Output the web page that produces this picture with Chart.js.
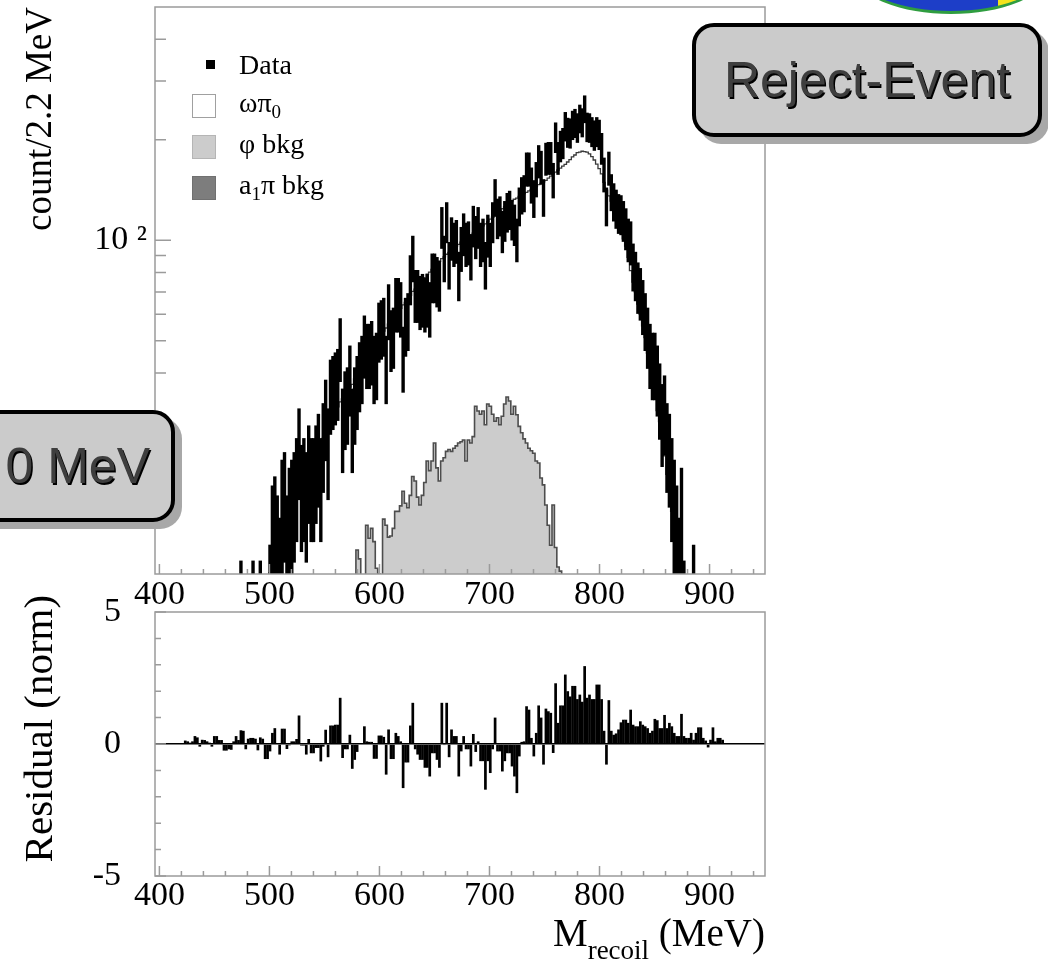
<!DOCTYPE html>
<html>
<head>
<meta charset="utf-8">
<title>M recoil spectrum - Reject-Event</title>
<script src="https://cdn.jsdelivr.net/npm/chart.js@4.4.1/dist/chart.umd.min.js"></script>
<style>
  body { margin: 0; background: #fff; }
  #page { position: relative; width: 1048px; height: 966px; overflow: hidden; background: #fff;
          font-family: "Liberation Serif", "Times New Roman", serif; color: #000; }
  canvas { position: absolute; left: 0; }
  #topChart { top: 0; }
  #bottomChart { top: 580px; }
  .key { position: absolute; box-sizing: border-box; }
  .keyText { position: absolute; left: 239px; font-size: 28px; line-height: 28px; white-space: nowrap; }
  .keyText sub { font-size: 19px; vertical-align: -6px; line-height: 0; }
  .tag { position: absolute; box-sizing: border-box; background: #cbcbcb; border: 4px solid #000;
         border-radius: 22px; box-shadow: 7px 7px 0 #a8a8a8; display: flex; align-items: center;
         font-family: "Liberation Sans", Arial, sans-serif; font-size: 50px; color: #3e3e3e;
         text-shadow: 1.5px 1.5px 0 #000; white-space: nowrap; }
  #xTitle { position: absolute; right: 283px; top: 913px; font-size: 39px; line-height: 39px; white-space: nowrap; }
  #xTitle sub { font-size: 27px; vertical-align: -13px; line-height: 0; }
  #logo { position: absolute; left: 858px; top: -62px; width: 186px; height: 76px; box-sizing: border-box;
          border-radius: 50%; border: 3px solid #2f9d40;
          background: linear-gradient(90deg, #1d3ec8 0%, #1d3ec8 76%, #f3e31b 76%, #f3e31b 100%); }
</style>
</head>
<body>
<div id="page">
  <canvas id="topChart" width="800" height="612"></canvas>
  <canvas id="bottomChart" width="800" height="386"></canvas>

  <div class="key" style="left:206px;top:60px;width:9px;height:9px;background:#000"></div>
  <div class="key" style="left:192px;top:94px;width:24px;height:24px;background:#fff;border:1px solid #a0a0a0"></div>
  <div class="key" style="left:192px;top:135px;width:24px;height:24px;background:#cccccc;border:1px solid #b5b5b5"></div>
  <div class="key" style="left:192px;top:176px;width:24px;height:24px;background:#7d7d7d;border:1px solid #707070"></div>
  <div class="keyText" style="top:51px">Data</div>
  <div class="keyText" style="top:89px">ωπ<sub>0</sub></div>
  <div class="keyText" style="top:130px">φ bkg</div>
  <div class="keyText" style="top:171px">a<sub>1</sub>π bkg</div>

  <div id="xTitle">M<sub>recoil</sub> (MeV)</div>

  <div id="logo"></div>
  <div class="tag" style="left:692px;top:23px;width:350px;height:114px;justify-content:center">Reject-Event</div>
  <div class="tag" style="left:-200px;top:410px;width:375px;height:112px;justify-content:flex-end;padding-right:21px">0 MeV</div>
</div>

<script>
// histogram binning: 252 bins of 2.2 MeV starting at 396 MeV
const firstEdge = 396;
const binWidth = 2.2;
// data error bars drawn as +- errorScale * sqrt(count)
const errorScale = 1.5;

const xTickValues = [400, 500, 600, 700, 800, 900];
const yTopTickValues = [100];
const yTopTickLabels = ["10 \u00b2"];
const yTopMinorTicks = [20, 30, 40, 50, 60, 70, 80, 90, 200, 300, 400];
const yBottomTickValues = [-5, 0, 5];
const yBottomMinorTicks = [-4, -3, -2, -1, 1, 2, 3, 4];

// data counts per bin
const dataCounts = [
  0, 0, 0, 0, 0, 0, 0, 0, 0, 0,
  0, 0, 1, 0, 1, 0, 1, 1, 0, 1,
  1, 1, 1, 1, 2, 2, 2, 2, 1, 2,
  2, 2, 3, 4, 4, 7, 5, 4, 6, 6,
  7, 6, 6, 7, 6, 6, 6, 8, 13, 14,
  12, 10, 16, 17, 12, 15, 16, 17, 19, 24,
  18, 19, 17, 21, 19, 19, 21, 23, 19, 25,
  30, 24, 35, 36, 37, 38, 48, 28, 32, 33,
  39, 28, 33, 36, 40, 42, 49, 46, 46, 47,
  42, 43, 54, 55, 56, 42, 62, 51, 52, 65,
  65, 63, 45, 56, 58, 77, 89, 69, 69, 66,
  67, 65, 67, 63, 78, 78, 76, 74, 110, 89,
  114, 85, 102, 98, 100, 79, 95, 105, 98, 99,
  90, 111, 103, 110, 98, 101, 85, 104, 98, 114,
  135, 117, 119, 107, 115, 122, 124, 116, 112, 101,
  127, 137, 139, 164, 164, 147, 134, 153, 173, 166,
  135, 176, 177, 177, 152, 204, 177, 192, 196, 220,
  211, 210, 222, 225, 218, 232, 226, 248, 219, 218,
  212, 207, 212, 208, 189, 158, 127, 165, 140, 131,
  125, 121, 120, 115, 109, 101, 99, 84, 79, 73,
  70, 64, 58, 52, 46, 43, 43, 39, 34, 29,
  31, 25, 23, 19, 16, 13, 10, 15, 7, 6,
  5, 6, 8, 3, 3, 3, 2, 1, 1, 1,
  2, 1, 1, 0, 0, 0, 0, 0, 0, 0,
  0, 0, 0, 0, 0, 0, 0, 0, 0, 0,
  0, 0
];

// omega pi0 + backgrounds, simulation total per bin
const mcTotal = [
  0, 0, 0, 0, 0, 0, 0, 0, 0, 0,
  0, 0, 0.3, 0.3, 0.4, 0.4, 0.5, 0.6, 0.6, 0.7,
  0.8, 0.9, 1.0, 1.1, 1.2, 1.4, 1.5, 1.7, 1.9, 2.1,
  2.3, 2.6, 2.9, 3.2, 3.5, 3.9, 4.3, 4.7, 5.1, 5.5,
  6.0, 6.5, 7.0, 7.5, 8.1, 8.7, 9.4, 10.1, 10.8, 10.9,
  11.7, 12.2, 13.1, 13.5, 14.3, 14.8, 15.7, 16.1, 17.0, 17.5,
  18.3, 18.8, 19.6, 20.2, 21.2, 21.9, 23.0, 23.7, 24.8, 25.5,
  26.7, 27.5, 28.9, 29.7, 31.1, 31.7, 32.8, 33.5, 34.6, 35.3,
  36.3, 37.0, 38.4, 39.3, 40.5, 41.5, 42.9, 44.0, 45.5, 46.6,
  48.2, 49.3, 50.8, 51.9, 53.4, 54.6, 56.1, 57.2, 58.7, 59.8,
  61.4, 62.5, 64.0, 65.1, 66.8, 68.4, 70.3, 71.4, 72.9, 74.0,
  75.6, 77.2, 79.1, 80.3, 81.8, 83.0, 84.9, 86.5, 88.1, 89.2,
  90.8, 91.9, 93.4, 94.5, 96.1, 97.2, 98.7, 99.8, 101.3, 102.4,
  104.0, 105.1, 106.6, 107.7, 109.2, 110.4, 111.9, 113.7, 115.7, 117.2,
  119.2, 120.7, 122.7, 124.3, 126.2, 127.8, 129.7, 131.2, 132.7, 133.8,
  135.4, 136.5, 138.1, 139.2, 140.7, 141.8, 143.3, 144.9, 146.9, 148.0,
  149.6, 151.2, 153.6, 155.6, 158.0, 160.0, 162.4, 164.4, 166.8, 168.8,
  171.6, 174.5, 177.7, 180.1, 183.0, 183.7, 184.8, 184.3, 183.6, 181.5,
  178.2, 174.0, 169.1, 164.0, 158.2, 149.1, 141.2, 135.8, 131.1, 124.9,
  119.1, 111.9, 107.1, 100.9, 96.1, 88.9, 81.1, 74.9, 70.1, 64.4,
  60.1, 55.4, 51.1, 45.9, 42.1, 37.9, 34.1, 30.9, 28.6, 25.4,
  22.6, 19.9, 17.9, 15.4, 13.4, 10.9, 9.4, 7.9, 6.8, 5.5,
  4.8, 4.0, 3.4, 2.8, 2.3, 1.9, 1.6, 1.3, 1.1, 0.9,
  0.7, 0.6, 0.5, 0.4, 0.3, 0, 0, 0, 0, 0,
  0, 0, 0, 0, 0, 0, 0, 0, 0, 0,
  0, 0
];

// phi background, bins 82..169
const phiFirstBin = 82;
const phiBkg = [
  0.5,
  11.8, 11.1, 9.0, 9.5, 14.0, 12.8, 13.7, 12.5, 10.4, 10.0,
  9.8, 14.6, 14.0, 12.9, 13.0, 13.7, 15.4, 15.4, 16.0, 17.7,
  16.3, 15.8, 17.2, 19.6, 19.0, 17.0, 16.1, 17.2, 18.8, 21.8,
  20.4, 21.8, 24.7, 20.8, 19.0, 21.8, 22.3, 23.3, 23.6, 23.3,
  23.8, 24.2, 24.7, 24.9, 25.2, 21.8, 25.2, 24.7, 25.8, 31.8,
  30.8, 30.1, 30.8, 28.0, 32.3, 31.8, 30.1, 28.7, 29.4, 28.0,
  29.7, 32.3, 33.9, 33.0, 30.1, 31.8, 30.0, 27.7, 26.5, 25.4,
  24.7, 23.8, 23.4, 23.0, 21.8, 21.5, 19.4, 18.5, 16.1, 14.0,
  12.2, 16.1, 12.0, 10.5, 10.2, 9.9,
  0.5
];

// normalised residual per bin
const residuals = [
  0, 0, 0, 0, 0, 0, 0, 0, 0, 0,
  0, 0, 0.13, 0.1, 0.05, 0.1, 0.3, 0.25, -0.1, 0.16,
  0.15, 0.1, 0.05, -0.1, 0.3, 0.3, 0.15, 0.15, -0.25, -0.25,
  -0.2, -0.22, 0.1, 0.3, 0.15, 0.52, 0.5, -0.2, 0.2, 0.23,
  0.23, 0.2, -0.24, 0.25, 0.2, -0.57, -0.57, -0.28, 0.42, 0.6,
  0, -0.4, 0.58, 0.58, -0.19, -0.05, 0.1, 0.1, 0.19, 1.08,
  -0.06, -0.06, -0.4, 0.19, -0.35, -0.35, -0.15, -0.15, -0.66, -0.1,
  0.54, -0.5, 0.7, 0.7, 0.73, 0.73, 1.75, -0.53, -0.2, -0.2,
  0.35, -0.94, -0.6, -0.3, 0, 0, 0.67, 0.1, 0.08, 0.08,
  -0.56, -0.56, 0.32, 0.32, 0.27, -1.16, 0.55, -0.57, -0.57, 0.42,
  0.3, 0.1, -1.67, -0.7, -0.7, 0.7, 1.56, -0.2, -0.4, -0.6,
  -0.6, -0.9, -0.9, -1.23, -0.35, -0.35, -0.6, -0.9, 1.56, -0.04,
  1.56, -0.5, 0.55, 0.3, 0.3, -1.23, -0.28, 0.3, -0.2, -0.2,
  -0.85, 0.38, -0.3, 0.1, -0.65, -0.65, -1.73, -0.65, -1.1, -0.2,
  1.0, -0.28, -0.28, -1.04, -0.65, -0.35, -0.35, -0.85, -1.23, -1.86,
  -0.47, 0.08, 0.1, 1.43, 1.3, 0.23, -0.47, 0.42, 1.46, 1.0,
  -0.78, 1.34, 1.24, 1.18, -0.34, 2.3, 0.8, 1.46, 1.46, 2.63,
  2.0, 1.8, 2.2, 2.2, 1.7, 1.87, 1.6, 2.95, 1.75, 1.87,
  1.7, 1.7, 2.25, 2.25, 1.7, 0.5, -0.78, 1.66, 0.5, 0.35,
  0.4, 0.55, 0.82, 0.92, 0.92, 0.8, 1.3, 0.73, 0.67, 0.67,
  0.86, 0.73, 0.67, 0.6, 0.42, 0.5, 0.95, 0.9, 0.6, 0.6,
  1.1, 0.6, 0.8, 0.67, 0.42, 0.3, 0.3, 1.14, 0.3, 0.23,
  0.23, 0.42, 0.16, 0.42, 0.63, 0.63, 0.23, 0.13, -0.13, 0.16,
  0.63, 0.1, 0.23, 0.23, 0.16, 0, 0, 0, 0, 0,
  0, 0, 0, 0, 0, 0, 0, 0, 0, 0,
  0, 0
];

const serif = "Liberation Serif";
const xMin = firstEdge;
const xMax = firstEdge + dataCounts.length * binWidth;
const binEdge = (k) => firstEdge + k * binWidth;
const binCenter = (k) => binEdge(k) + binWidth / 2;

// points for a stepped histogram outline (value holds from left edge to next edge)
function stepPoints(values, startBin) {
  const pts = values.map((v, i) => ({ x: binEdge(startBin + i), y: v }));
  pts.push({ x: binEdge(startBin + values.length), y: values[values.length - 1] });
  return pts;
}

const dataBars = [];
dataCounts.forEach((n, k) => {
  if (n > 0) {
    const err = errorScale * Math.sqrt(n);
    dataBars.push({ x: binCenter(k), y: [Math.max(n - err, 0.1), n + err] });
  }
});

const mcFirst = mcTotal.findIndex((v) => v > 0);
const mcLast = mcTotal.length - 1 - [...mcTotal].reverse().findIndex((v) => v > 0);
const mcPoints = stepPoints(mcTotal.slice(mcFirst, mcLast + 1), mcFirst);

const residualBars = residuals.map((r, k) => ({ x: binCenter(k), y: r }));

// ROOT-like frame with inward tick marks
function frameTicks(id, yMajor, yMinor, yMajorLen, yMinorLen) {
  return {
    id: id,
    afterDatasetsDraw(chart) {
      const { ctx, chartArea: a, scales } = chart;
      ctx.save();
      ctx.strokeStyle = "#9b9b9b";
      ctx.lineWidth = 1.5;
      ctx.strokeRect(a.left, a.top, a.right - a.left, a.bottom - a.top);
      ctx.beginPath();
      for (let v = 400; v <= 940; v += 20) {
        const px = scales.x.getPixelForValue(v);
        const len = v % 100 === 0 ? 10 : 5;
        ctx.moveTo(px, a.bottom);
        ctx.lineTo(px, a.bottom - len);
      }
      yMajor.forEach((v) => {
        const py = scales.y.getPixelForValue(v);
        ctx.moveTo(a.left, py);
        ctx.lineTo(a.left + yMajorLen, py);
      });
      yMinor.forEach((v) => {
        const py = scales.y.getPixelForValue(v);
        ctx.moveTo(a.left, py);
        ctx.lineTo(a.left + yMinorLen, py);
      });
      ctx.stroke();
      ctx.restore();
    }
  };
}

const xAxis = (height, pad) => ({
  type: "linear",
  min: xMin,
  max: xMax,
  offset: false,
  grid: { display: false, drawTicks: false },
  border: { display: false },
  afterBuildTicks: (s) => { s.ticks = xTickValues.map((v) => ({ value: v })); },
  afterFit: (s) => { s.height = height; s.paddingLeft = 0; s.paddingRight = 0; },
  ticks: {
    padding: pad, maxRotation: 0, autoSkip: false, color: "#000",
    font: { family: serif, size: 34 },
    callback: (v) => String(v)
  }
});

new Chart(document.getElementById("topChart"), {
  type: "line",
  data: {
    datasets: [
      {
        type: "bar",
        label: "Data",
        data: dataBars,
        backgroundColor: "#000",
        barThickness: 3.4,
        inflateAmount: 0,
        order: 1,
        clip: 0
      },
      {
        label: "\u03c9\u03c00 total",
        data: mcPoints,
        stepped: "before",
        borderColor: "#3a3a3a",
        borderWidth: 1.3,
        pointRadius: 0,
        fill: false,
        order: 2,
        clip: 0
      },
      {
        label: "\u03c6 bkg",
        data: stepPoints(phiBkg, phiFirstBin),
        stepped: "before",
        borderColor: "#4d4d4d",
        borderWidth: 1.6,
        backgroundColor: "#cccccc",
        fill: "start",
        pointRadius: 0,
        order: 3,
        clip: 0
      }
    ]
  },
  options: {
    responsive: false,
    animation: false,
    devicePixelRatio: 1,
    layout: { padding: { top: 7, right: 35, left: 0, bottom: 0 } },
    plugins: { legend: { display: false }, tooltip: { enabled: false } },
    scales: {
      x: xAxis(38, 1),
      y: {
        type: "logarithmic",
        min: 10,
        max: 500,
        grid: { display: false, drawTicks: false },
        border: { display: false },
        afterBuildTicks: (s) => { s.ticks = yTopTickValues.map((v) => ({ value: v })); },
        afterFit: (s) => { s.width = 155; s.paddingTop = 0; s.paddingBottom = 0; },
        ticks: {
          padding: 8, color: "#000",
          font: { family: serif, size: 34 },
          callback: (v, i) => yTopTickLabels[i]
        },
        title: {
          display: true,
          text: "count/2.2 MeV",
          align: "end",
          color: "#000",
          font: { family: serif, size: 37 },
          padding: { top: 19, bottom: 0 }
        }
      }
    }
  },
  plugins: [frameTicks("frameTop", yTopTickValues, yTopMinorTicks, 16, 11)]
});

new Chart(document.getElementById("bottomChart"), {
  type: "bar",
  data: {
    datasets: [
      {
        label: "Residual",
        data: residualBars,
        backgroundColor: "#000",
        barThickness: 2.7,
        inflateAmount: 0,
        clip: 0
      }
    ]
  },
  options: {
    responsive: false,
    animation: false,
    devicePixelRatio: 1,
    layout: { padding: { top: 32, right: 35, left: 0, bottom: 0 } },
    plugins: { legend: { display: false }, tooltip: { enabled: false } },
    scales: {
      x: xAxis(90, 0),
      y: {
        type: "linear",
        min: -5,
        max: 5,
        grid: {
          display: true,
          drawTicks: false,
          color: (c) => (c.tick && c.tick.value === 0 ? "#000" : "rgba(0,0,0,0)"),
          lineWidth: 1.5
        },
        border: { display: false },
        afterBuildTicks: (s) => { s.ticks = yBottomTickValues.map((v) => ({ value: v })); },
        afterFit: (s) => { s.width = 155; s.paddingTop = 0; s.paddingBottom = 0; },
        ticks: {
          padding: 34, color: "#000",
          font: { family: serif, size: 34 },
          callback: (v) => String(v)
        },
        title: {
          display: true,
          text: "   Residual (norm)",
          align: "center",
          color: "#000",
          font: { family: serif, size: 41 },
          padding: { top: 17, bottom: 0 }
        }
      }
    }
  },
  plugins: [frameTicks("frameBottom", yBottomTickValues, yBottomMinorTicks, 11, 6)]
});
</script>
</body>
</html>
